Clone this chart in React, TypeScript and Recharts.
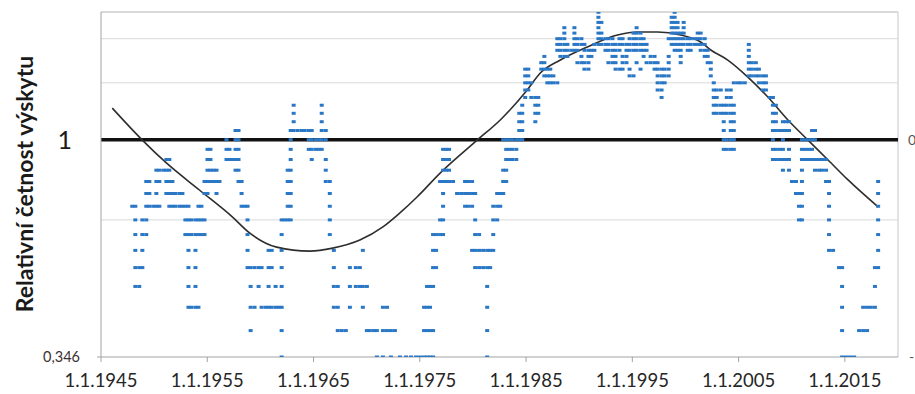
import { ComposedChart, Scatter, Line, XAxis, YAxis, ReferenceLine } from "recharts"

// values are counts in the moving window divided by the mean count (bottom level 7 -> 0,346)
const MEAN_COUNT = 20.23
const Y_MIN = 0.346
const Y_MAX = 1.98
const X_TICKS = [1945, 1955, 1965, 1975, 1985, 1995, 2005, 2015]
const GRID_LINES = [0.692, 1.384, 1.73]
const MARKED_LINE = 1.038 // drawn heavy and labelled "1"

// [year, levels seen at that date]
const DOT_COLUMNS: [number, number[]][] = [
  [1947.94, [15]], [1948.23, [15, 14, 13, 12, 11, 10]], [1948.6, [11, 10]], [1948.89, [14, 13, 12, 11]],
  [1949.26, [17, 16, 15, 14, 13]], [1949.55, [17, 16, 15]], [1949.92, [15]], [1950.21, [18, 17, 16, 15]],
  [1950.49, [18, 17, 15]], [1950.87, [18]], [1951.15, [19, 18, 17, 16]], [1951.43, [19, 18, 17, 16, 15]],
  [1951.72, [17, 16, 15]], [1952.0, [16, 15]], [1952.38, [16, 15]], [1952.66, [16, 15]],
  [1952.94, [15, 14, 13]], [1953.23, [15, 14, 13, 12, 11, 10, 9]], [1953.51, [14, 13, 9]],
  [1953.89, [14, 13, 12, 11, 10, 9]], [1954.17, [15, 14, 13, 9]], [1954.45, [15, 14, 13]],
  [1954.74, [17, 16, 14, 13]], [1955.02, [20, 19, 18, 17, 16]], [1955.3, [20, 19, 18, 17]],
  [1955.58, [18, 17]], [1955.87, [18, 17, 16]], [1956.15, [17]], [1956.81, [21, 20, 19]],
  [1957.09, [20, 19]], [1957.38, [19]], [1957.66, [22, 21, 20, 19, 18]], [1957.94, [22, 21, 20, 19, 18, 17]],
  [1958.23, [17, 16, 15]], [1958.51, [15]], [1958.79, [15, 14, 13, 12, 11]],
  [1959.08, [11, 10, 9, 8]], [1959.45, [11, 9]], [1959.83, [11, 10]], [1960.11, [11, 9]], [1960.49, [9]],
  [1960.77, [12, 11, 10, 9]], [1961.06, [12, 11, 9]], [1961.43, [10, 9]], [1961.72, [9]],
  [1962.0, [14, 13, 12, 11, 10, 9, 8, 7]], [1962.28, [14]], [1962.57, [18, 17, 16, 15, 14]],
  [1962.85, [22, 21, 20, 19, 18, 17, 16, 15, 14]], [1963.13, [25, 24, 23, 22]], [1963.51, [22]],
  [1963.89, [22]], [1964.17, [22]], [1964.55, [22, 21, 20]], [1964.83, [22, 21, 20, 19]],
  [1965.21, [21, 20]], [1965.49, [21, 20]], [1965.77, [25, 24, 23, 22, 21, 20]],
  [1966.15, [22, 21, 19, 18, 17]], [1966.53, [17, 16, 15, 14, 13]], [1966.91, [12, 11, 10, 9]],
  [1967.28, [10, 9, 8]], [1967.66, [8]], [1968.04, [8]], [1968.42, [11, 10, 9]], [1968.98, [11, 10]],
  [1969.36, [11, 10]], [1969.64, [12, 10, 9]], [1970.02, [10, 8]], [1970.3, [8]], [1970.68, [8]],
  [1970.96, [8, 7]], [1971.53, [9, 8, 7]], [1971.91, [9, 8]], [1972.28, [8, 7]], [1972.66, [8]],
  [1973.13, [7]], [1973.7, [7]], [1974.17, [7]], [1974.64, [7]], [1975.02, [7]],
  [1975.4, [9, 8, 7]], [1975.68, [10, 9, 8, 7]], [1975.96, [10, 9, 8, 7]], [1976.25, [13, 12, 11, 10, 8, 7]],
  [1976.53, [13, 12, 11]], [1976.91, [17, 14, 13]], [1977.19, [20, 19, 18, 17, 16, 15, 14, 13]],
  [1977.47, [20, 19, 18, 17]], [1977.75, [20, 19, 18, 17]], [1978.13, [17]], [1978.51, [16]],
  [1978.89, [16]], [1979.26, [17, 16, 15]], [1979.55, [17, 16, 15]], [1979.92, [17, 16, 15, 12]],
  [1980.21, [16, 14, 13, 12, 11]], [1980.58, [13, 12, 11]], [1980.96, [12, 11]],
  [1981.34, [12, 11, 10, 9, 8, 7]], [1981.62, [12, 11]], [1981.91, [15, 14, 13, 12]],
  [1982.28, [16, 15, 14]], [1982.57, [16, 15]], [1982.85, [21, 18, 17, 16]],
  [1983.13, [21, 20, 19, 18, 17]], [1983.42, [21, 20, 19]], [1983.7, [21, 20, 19]], [1984.08, [21, 20, 19]],
  [1984.36, [24, 23, 22, 21]], [1984.64, [25, 24, 23, 22, 21]], [1984.92, [30, 29, 28, 27, 26]],
  [1985.21, [30, 29, 28, 27]], [1985.49, [28, 26]], [1985.87, [26, 25, 24, 23]], [1986.15, [26, 25, 24]],
  [1986.43, [31, 30]], [1986.72, [32, 31, 30, 29]], [1987.0, [30, 29, 28]], [1987.28, [30, 29, 28]],
  [1987.57, [29, 28]], [1987.94, [35, 34, 33, 28]], [1988.23, [35, 34, 33, 32]],
  [1988.6, [37, 36, 35, 34, 33, 32]], [1988.89, [34, 33, 32]], [1989.26, [33]],
  [1989.55, [37, 36, 35, 34, 33]], [1989.83, [35, 34, 33, 31]], [1990.21, [35, 34, 32, 31]],
  [1990.49, [34, 33, 31, 30]], [1990.87, [33, 32, 31, 30]], [1991.15, [33, 32]], [1991.43, [34, 33]],
  [1991.81, [40, 39, 38, 37, 36, 35, 34]], [1992.09, [38, 36, 35, 34]], [1992.47, [35, 34, 33]],
  [1992.75, [35, 34, 33, 31]], [1993.13, [35, 34, 33, 32, 31]], [1993.42, [34, 33, 32, 31, 30]],
  [1993.79, [35, 34, 33, 30]], [1994.08, [35, 34, 32, 31, 30]], [1994.45, [34, 33, 32, 31]],
  [1994.74, [35, 34, 33, 30, 29]], [1995.11, [36, 35, 34, 33, 29]], [1995.4, [37, 36, 35, 34, 33, 31]],
  [1995.77, [36, 35, 34, 33, 30]], [1996.06, [35, 34, 33, 32]], [1996.34, [34, 33, 31]],
  [1996.72, [32, 31]], [1997.09, [32, 31, 30]], [1997.38, [31, 30, 29, 28, 27]],
  [1997.75, [30, 29, 28, 27, 26]], [1998.04, [30, 29, 28]], [1998.42, [35, 32, 31, 30, 29]],
  [1998.7, [39, 38, 37, 36, 35, 34]], [1998.98, [40, 39, 38, 37, 36, 35, 34, 33]],
  [1999.26, [38, 37, 36, 35, 34, 33]], [1999.55, [36, 35, 34, 33, 32, 31]], [1999.83, [38, 37, 36, 35, 34]],
  [2000.21, [35, 34, 33]], [2000.49, [35, 34, 33]], [2000.87, [35, 34]], [2001.15, [36, 35, 34]],
  [2001.43, [36, 35, 34, 33]], [2001.81, [35, 34, 33, 32]], [2002.09, [33, 32, 31]], [2002.38, [31, 30, 29]],
  [2002.66, [28, 27, 26, 25, 24]], [2002.94, [27, 26, 25, 24]], [2003.32, [27, 25, 24]],
  [2003.6, [25, 24, 23, 22, 21, 20]], [2003.89, [27, 26, 25, 24, 21, 20]],
  [2004.26, [27, 26, 25, 24, 23, 22, 21, 20]], [2004.55, [28, 25, 24, 23, 22, 21, 20]],
  [2004.92, [28]], [2005.21, [28]], [2005.58, [28]], [2005.96, [34, 33, 32, 31, 30, 29]],
  [2006.25, [31, 30, 29]], [2006.62, [31, 30, 29]], [2006.91, [30, 29, 28]], [2007.28, [29, 28, 27]],
  [2007.57, [29, 28, 27]], [2007.94, [26]], [2008.23, [26, 25, 24, 23, 22, 21, 20, 19]],
  [2008.51, [25, 24, 23, 22, 20, 19]], [2008.89, [22, 20, 19]], [2009.17, [23, 22, 21, 20, 19, 18]],
  [2009.45, [23, 22, 19]], [2009.74, [23, 22, 20, 19, 18]], [2010.02, [17]], [2010.4, [17, 16]],
  [2010.68, [16, 15, 14]], [2010.96, [21, 20, 19, 18, 17, 16, 15, 14]], [2011.25, [21, 20, 19]],
  [2011.62, [21, 20, 19]], [2011.91, [22, 21, 20, 19]], [2012.19, [22, 21, 19, 18]], [2012.57, [19, 18]],
  [2012.85, [19, 18]], [2013.23, [19, 18, 17]], [2013.51, [17, 16, 15, 14, 13, 12]], [2013.89, [12]],
  [2014.45, [11]], [2014.74, [11, 10, 9, 8, 7]], [2015.11, [7]], [2015.49, [7]], [2015.87, [7]],
  [2016.34, [8]], [2016.72, [9, 8]], [2017.09, [9, 8]], [2017.45, [9]], [2017.83, [11, 10, 9]],
  [2018.13, [17, 16, 15, 14, 13, 12, 11]],
]

// fitted periodic curve
const CURVE_YEARS = [
  1946.06, 1948.89, 1951.15, 1954.26, 1957.38, 1958.98, 1961.53, 1964.64, 1966.81, 1969.36, 1971.53,
  1973.13, 1974.74, 1976.91, 1980.4, 1982.57, 1985.11, 1986.34, 1988.23, 1990.77, 1993.6, 1995.49,
  1997.38, 1999.55, 2001.43, 2002.38, 2003.98, 2005.87, 2007.75, 2009.64, 2011.53, 2013.42, 2015.3, 2018.13,
]
const CURVE_VALUES = [
  1.218, 1.036, 0.923, 0.805, 0.702, 0.648, 0.603, 0.591, 0.6, 0.625, 0.668,
  0.717, 0.777, 0.877, 1.036, 1.147, 1.335, 1.454, 1.553, 1.659, 1.762, 1.789,
  1.789, 1.762, 1.701, 1.634, 1.553, 1.425, 1.288, 1.147, 1.036, 0.937, 0.847, 0.739,
]

const dots = DOT_COLUMNS.flatMap(([t, levels]) => levels.map((k) => ({ t, v: k / MEAN_COUNT })))
const curve = CURVE_YEARS.map((t, i) => ({ t, v: CURVE_VALUES[i] }))

const DOT_COLOR = "#2a77c5"
const AXIS_COLOR = "#a3a3a3"
const GRID_COLOR = "#d9d9d9"

const Dash = (props: any) => (
  <rect x={props.cx - 2} y={props.cy - 1.5} width={4} height={3} fill={DOT_COLOR} />
)

const AxisTitle = () => (
  <text
    x={24}
    y={184}
    transform="rotate(-90, 24, 184)"
    textAnchor="middle"
    dominantBaseline="central"
    fontSize={23}
    fontWeight={700}
    fill="#1a1a1a"
  >
    Relativní četnost výskytu
  </text>
)

export default function App() {
  return (
    <div style={{ position: "absolute", left: 0, top: 0, fontFamily: "Lato, sans-serif", background: "white" }}>
      <ComposedChart width={915} height={394} margin={{ top: 12, right: 17, left: 41, bottom: 7 }}>
        <XAxis
          type="number"
          dataKey="t"
          domain={[1945, 2020]}
          ticks={X_TICKS}
          allowDataOverflow
          tickFormatter={(y) => `1.1.${y}`}
          tick={{ fontSize: 18.5, fill: "#262626" }}
          stroke={AXIS_COLOR}
          tickSize={5}
          tickMargin={12}
          height={30}
        />
        <YAxis
          type="number"
          dataKey="v"
          scale="log"
          domain={[Y_MIN, Y_MAX]}
          allowDataOverflow
          ticks={[Y_MIN]}
          tickFormatter={(v) => v.toFixed(3).replace(".", ",")}
          tick={{ fontSize: 14.5, fill: "#3a3030" }}
          stroke={AXIS_COLOR}
          tickSize={4}
          tickMargin={17}
          width={60}
          label={<AxisTitle />}
        />
        <ReferenceLine y={Y_MAX} stroke={GRID_COLOR} strokeWidth={2} />
        <ReferenceLine x={2020} stroke={GRID_COLOR} strokeWidth={1.5} />
        {GRID_LINES.map((g) => (
          <ReferenceLine key={g} y={g} stroke={GRID_COLOR} strokeWidth={1} />
        ))}
        <Scatter data={dots} dataKey="v" shape={Dash} isAnimationActive={false} />
        <ReferenceLine
          y={MARKED_LINE}
          stroke="#111111"
          strokeWidth={3.5}
          label={{ value: "1", position: "left", offset: 29, fontSize: 25, fill: "#1a1a1a" }}
        />
        <ReferenceLine
          y={MARKED_LINE}
          stroke="none"
          label={{ value: "0", position: "right", offset: 10, fontSize: 14, fill: "#555" }}
        />
        <ReferenceLine
          y={Y_MIN}
          stroke="none"
          label={{ value: "-", position: "right", offset: 11, fontSize: 14, fill: "#555" }}
        />
        <Line
          data={curve}
          dataKey="v"
          type="monotone"
          stroke="#2e2e2e"
          strokeWidth={1.6}
          dot={false}
          activeDot={false}
          isAnimationActive={false}
        />
      </ComposedChart>
    </div>
  )
}
